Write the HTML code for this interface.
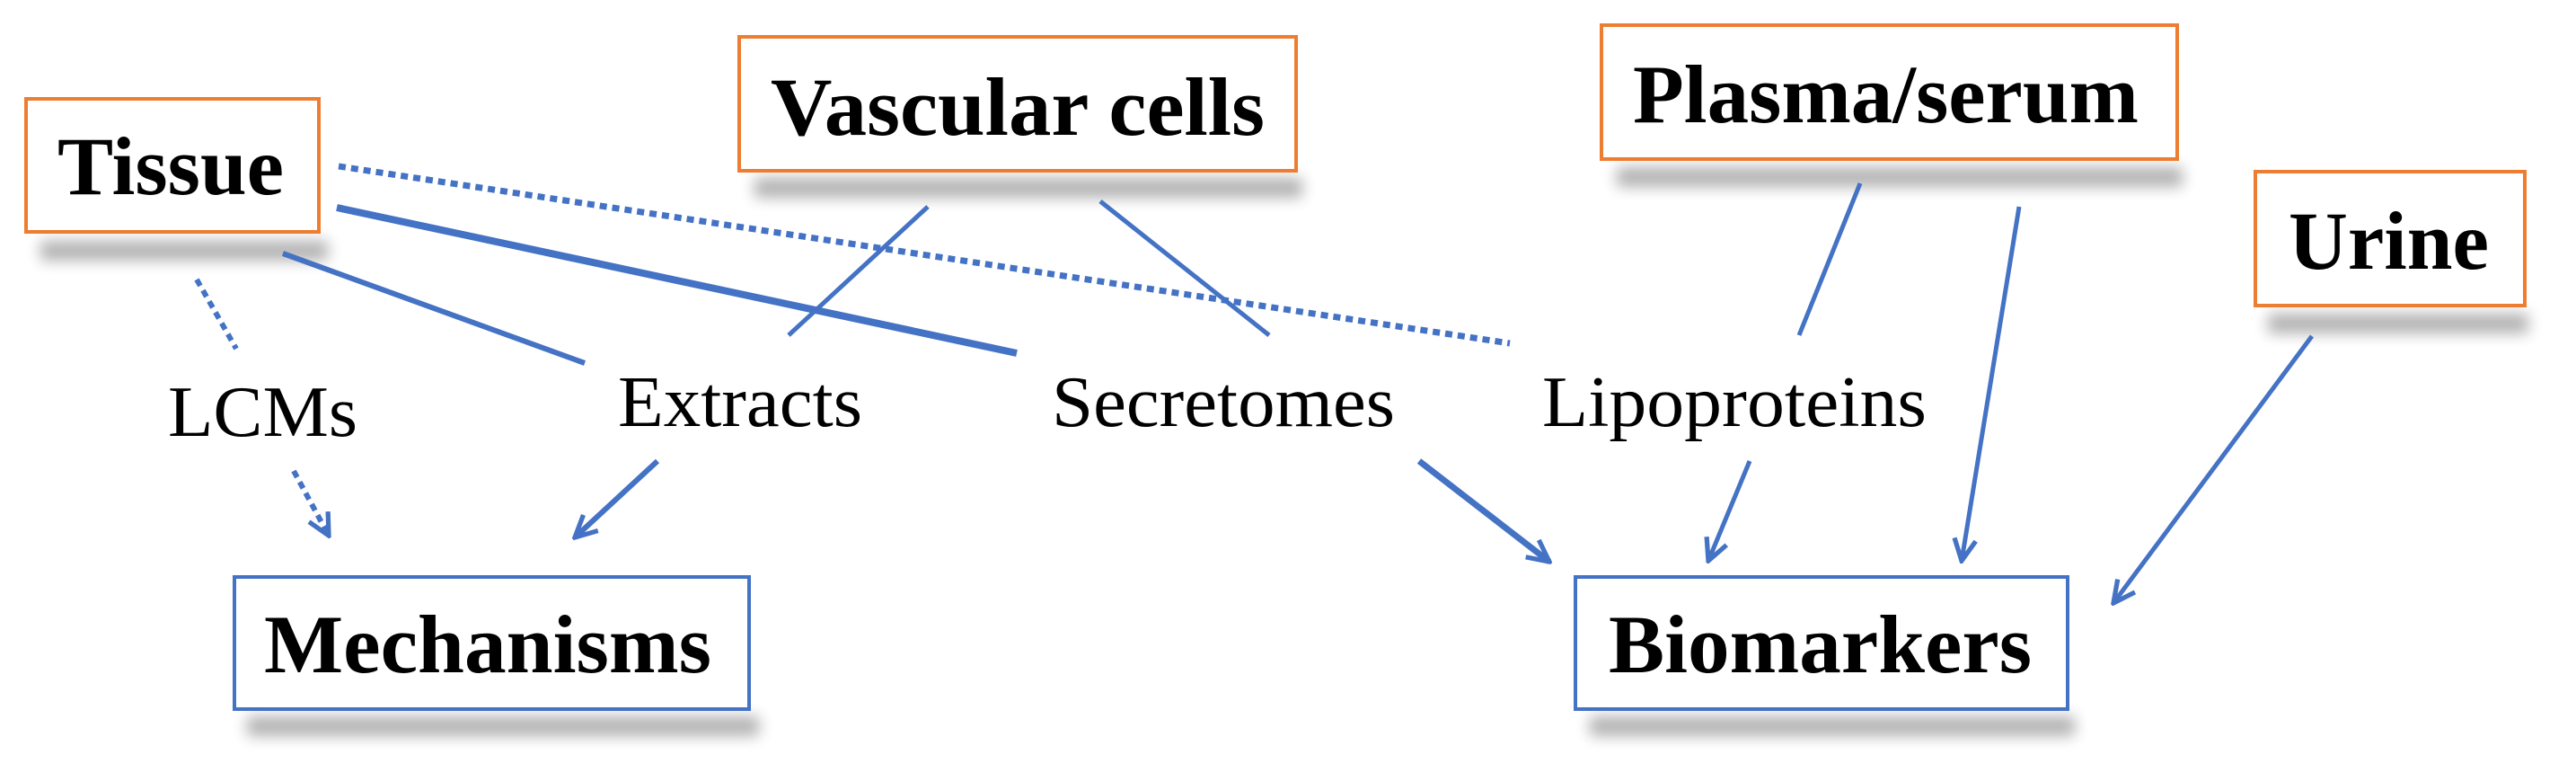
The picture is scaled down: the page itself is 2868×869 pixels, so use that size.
<!DOCTYPE html>
<html><head><meta charset="utf-8"><style>
html,body{margin:0;padding:0;background:#fff;overflow:hidden;}
svg{display:block;}
text{font-family:"Liberation Serif",serif;fill:#000;}
.b{font-weight:bold;font-size:92px;}
.r{font-size:80px;}
</style></head><body>
<svg width="2868" height="869" viewBox="0 0 2868 869" xmlns="http://www.w3.org/2000/svg">
<defs>
<filter id="sh" x="-20%" y="-80%" width="140%" height="260%"><feGaussianBlur stdDeviation="8"/></filter>
<marker id="ah" viewBox="0 0 40 40" refX="36" refY="20" markerWidth="30" markerHeight="30" markerUnits="userSpaceOnUse" orient="auto">
<polyline points="4,4 36,20 4,36" fill="none" stroke="#4472C4" stroke-width="7" stroke-linejoin="miter"/>
</marker>
</defs>
<g fill="#000" opacity="0.3" filter="url(#sh)">
<rect x="45" y="268" width="320" height="22"/>
<rect x="840" y="198" width="610" height="22"/>
<rect x="1800" y="186" width="630" height="22"/>
<rect x="2525" y="349" width="290" height="22"/>
<rect x="275" y="797" width="570" height="22"/>
<rect x="1770" y="797" width="540" height="22"/>
</g>
<g fill="#fff" stroke="#ED7D31" stroke-width="4">
<rect x="29" y="110" width="326" height="148"/>
<rect x="823" y="41" width="620" height="149"/>
<rect x="1783" y="28" width="641" height="149"/>
<rect x="2511" y="191" width="300" height="149"/>
</g>
<g fill="#fff" stroke="#4472C4" stroke-width="4">
<rect x="261" y="642" width="573" height="147"/>
<rect x="1754" y="642" width="548" height="147"/>
</g>
<text class="b" x="64" y="216" textLength="252" lengthAdjust="spacingAndGlyphs">Tissue</text>
<text class="b" x="858" y="150" textLength="550" lengthAdjust="spacingAndGlyphs">Vascular cells</text>
<text class="b" x="1818" y="136" textLength="563" lengthAdjust="spacingAndGlyphs">Plasma/serum</text>
<text class="b" x="2548" y="299" textLength="223" lengthAdjust="spacingAndGlyphs">Urine</text>
<text class="b" x="294" y="748" textLength="498" lengthAdjust="spacingAndGlyphs">Mechanisms</text>
<text class="b" x="1791" y="748" textLength="471" lengthAdjust="spacingAndGlyphs">Biomarkers</text>
<text class="r" x="187" y="485" textLength="211" lengthAdjust="spacingAndGlyphs">LCMs</text>
<text class="r" x="688" y="474" textLength="272" lengthAdjust="spacingAndGlyphs">Extracts</text>
<text class="r" x="1171" y="474" textLength="382" lengthAdjust="spacingAndGlyphs">Secretomes</text>
<text class="r" x="1717" y="474" textLength="428" lengthAdjust="spacingAndGlyphs">Lipoproteins</text>
<g stroke="#4472C4" fill="none">
<line x1="377" y1="185" x2="1681" y2="382" stroke-width="7" stroke-dasharray="8,6"/>
<line x1="375" y1="231" x2="1132" y2="393" stroke-width="8"/>
<line x1="315" y1="282" x2="651" y2="404" stroke-width="6"/>
<line x1="219" y1="311" x2="263" y2="388" stroke-width="6" stroke-dasharray="8,6"/>
<line x1="327" y1="524" x2="366" y2="596" stroke-width="6" stroke-dasharray="8,6" marker-end="url(#ah)"/>
<line x1="1033" y1="230" x2="878" y2="373" stroke-width="5"/>
<line x1="1225" y1="224" x2="1413" y2="373" stroke-width="5"/>
<line x1="732" y1="513" x2="640" y2="598" stroke-width="6" marker-end="url(#ah)"/>
<line x1="1580" y1="513" x2="1725" y2="625" stroke-width="7" marker-end="url(#ah)"/>
<line x1="2071" y1="204" x2="2003" y2="373" stroke-width="5"/>
<line x1="1948" y1="513" x2="1902" y2="624" stroke-width="5" marker-end="url(#ah)"/>
<line x1="2248" y1="230" x2="2184" y2="624" stroke-width="5" marker-end="url(#ah)"/>
<line x1="2574" y1="374" x2="2353" y2="671" stroke-width="5" marker-end="url(#ah)"/>
</g>
</svg>
</body></html>
